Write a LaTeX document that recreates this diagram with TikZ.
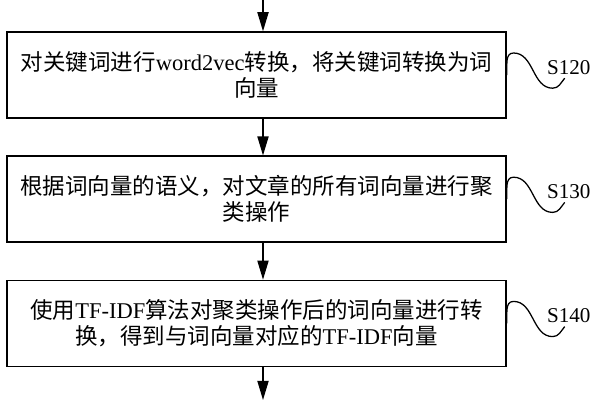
\documentclass[tikz,border=0pt]{standalone}
\usepackage{fontspec}
\setmainfont{Liberation Serif}
\newfontfamily\cjk{Noto Sans CJK SC}
\usetikzlibrary{positioning,arrows.meta}

\begin{document}
\begin{tikzpicture}[
      stepbox/.style={draw, line width=1pt, align=center,
                      minimum width=12.475cm, minimum height=2.15cm,
                      font=\cjk\fontsize{16}{18.5}\selectfont},
      steptag/.style={font=\fontsize{15}{18}\selectfont, inner sep=0pt},
      wave/.style={line width=0.9pt},
      >={Triangle[length=4.8mm, width=2.8mm]}, node distance=0.92cm]
    \useasboundingbox (0,0) rectangle (15,-10);
    \node[stepbox] (b1) at (6.4125,-1.875) {对关键词进行{\rmfamily word2vec}转换，将关键词转换为词\\ 向量};
    \node[stepbox, below=of b1] (b2) {根据词向量的语义，对文章的所有词向量进行聚\\ 类操作};
    \node[stepbox, below=of b2] (b3) {使用{\rmfamily TF-IDF}算法对聚类操作后的词向量进行转\\ 换，得到与词向量对应的{\rmfamily TF-IDF}向量};
    \coordinate (in) at (6.575,0);
    \coordinate (out) at (6.575,-10);
    \draw[->, line width=1pt] (in) -- (in |- b1.north);
    \draw[->, line width=1pt] (b1.south -| in) -- (b2.north -| in);
    \draw[->, line width=1pt] (b2.south -| in) -- (b3.north -| in);
    \draw[->, line width=1pt] (b3.south -| in) -- (out);
    \draw[wave] (b1.east) to[out=85,in=180] ++(0.17,0.55) to[out=0,in=180] ++(0.98,-0.88) to[out=0,in=230] ++(0.3,0.25);
    \draw[wave] (b2.east) to[out=85,in=180] ++(0.17,0.55) to[out=0,in=180] ++(0.98,-0.88) to[out=0,in=230] ++(0.3,0.25);
    \draw[wave] (b3.east) to[out=85,in=180] ++(0.17,0.55) to[out=0,in=180] ++(0.98,-0.88) to[out=0,in=230] ++(0.3,0.25);
    \node[steptag] (t1) at ([shift={(1.55,0.19)}]b1.east) {S120};
    \node[steptag] (t2) at ([shift={(1.55,0.19)}]b2.east) {S130};
    \node[steptag] (t3) at ([shift={(1.55,0.19)}]b3.east) {S140};
  \end{tikzpicture}
\end{document}
